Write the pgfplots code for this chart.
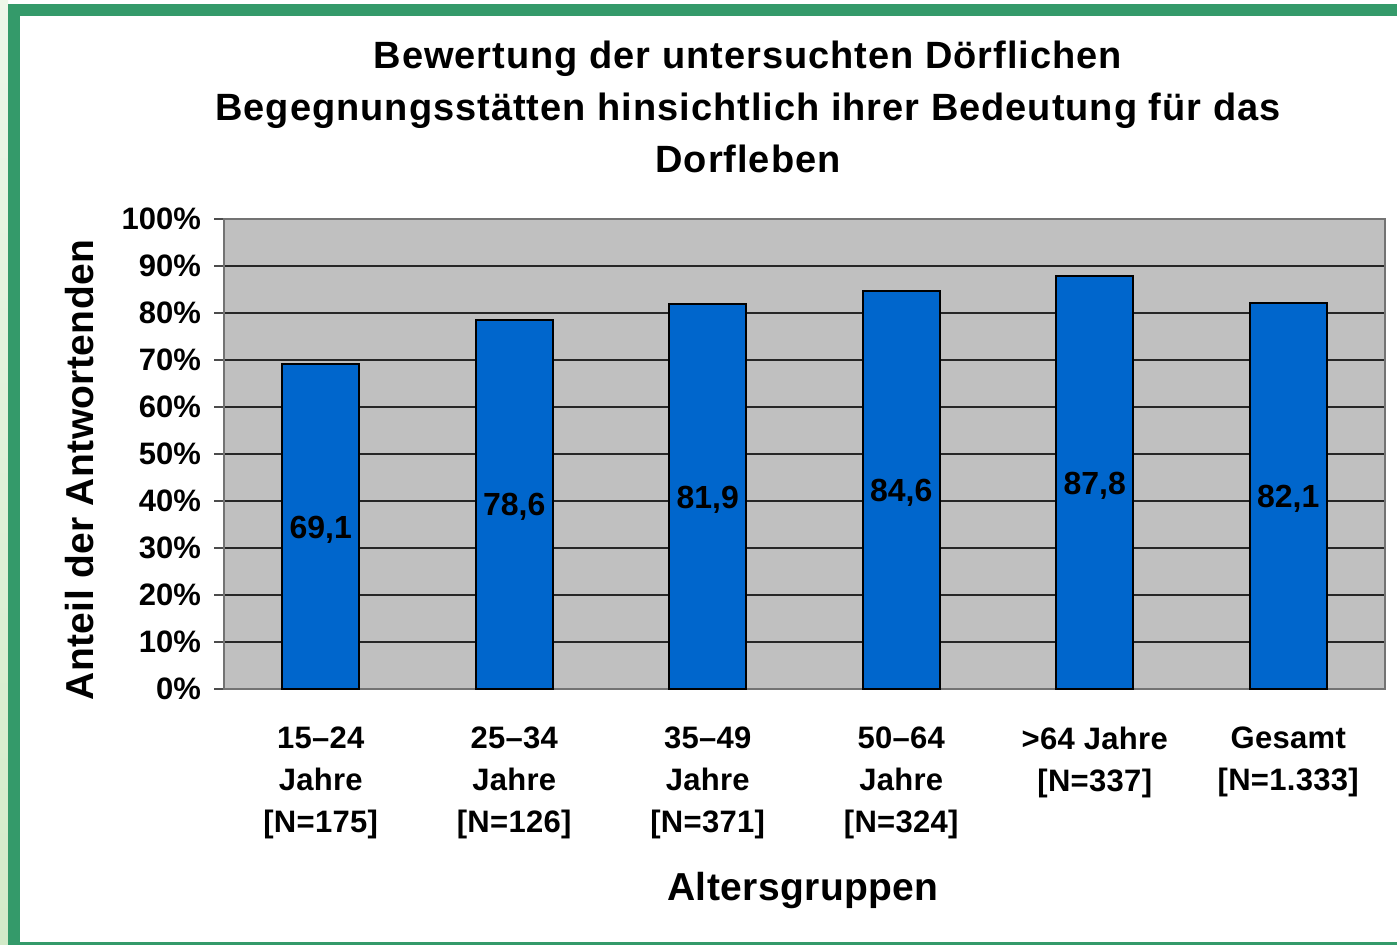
\documentclass[border=0pt]{standalone}
\usepackage{pgfplots}
\pgfplotsset{compat=1.18}
\usepackage{pgfplotstable}
\usepackage{fontspec}
\setmainfont{Liberation Sans}
\newfontfamily\titlefont{Liberation Sans}[LetterSpace=2.6]
\newfontfamily\labelfont{Liberation Sans}[LetterSpace=1.0]
\definecolor{framegreen}{RGB}{52,154,106}
\definecolor{palegreen}{RGB}{210,234,200}
\definecolor{plotgray}{RGB}{192,192,192}
\definecolor{barblue}{RGB}{0,102,204}
\pgfplotstableread{
x v
0 69.1
1 78.6
2 81.9
3 84.6
4 87.8
5 82.1
}\data
\begin{document}
\begin{tikzpicture}[x=1pt,y=1pt]
\useasboundingbox (0,0) rectangle (698.5,472.5);
\fill[white] (0,0) rectangle (698.5,472.5);
\shade[bottom color=palegreen, top color=palegreen!40!white] (0,0) rectangle (4,472.5);
\fill[framegreen] (4,0) rectangle (10,470.5);
\fill[framegreen] (4,464.5) rectangle (698.5,470.5);
\fill[framegreen] (4,0) rectangle (698.5,1.5);
\begin{axis}[
  at={(112pt,128pt)}, anchor=south west,
  scale only axis, width=580.5pt, height=235pt,
  xmin=-0.5, xmax=5.5, ymin=0, ymax=100,
  axis background/.style={fill=plotgray},
  axis line style={draw=black!55, line width=0.7pt},
  ytick={0,10,...,100},
  yticklabel={\pgfmathprintnumber{\tick}\%},
  /pgf/number format/assume math mode=true,
  ymajorgrids, grid style={draw=black!85, line width=0.6pt},
  tick align=outside, ytick pos=left, xtick pos=bottom,
  major tick length=5pt,
  tick style={draw=black!70, line width=0.6pt},
  xtick={0,...,5},
  xticklabels={{15–24\\Jahre\\{[N=175]}},{25–34\\Jahre\\{[N=126]}},{35–49\\Jahre\\{[N=371]}},{50–64\\Jahre\\{[N=324]}},{>64 Jahre\\{[N=337]}},{Gesamt\\{[N=1.333]}}},
  xtick style={draw=none},
  extra x ticks={-0.5,0.5,...,5.5},
  extra x tick labels={},
  extra x tick style={grid=none, tick style={draw=black!70, line width=0.6pt}, major tick length=5pt},
  yticklabel style={font=\bfseries\fontsize{15.5}{18}\selectfont, xshift=-3pt},
  xticklabel style={font=\labelfont\bfseries\fontsize{15.5}{21}\selectfont, align=center, yshift=-10.5pt, anchor=north},
  clip=false,
]
\addplot[ybar, bar width=0.4, fill=barblue, draw=black, line width=1pt] table[x=x, y=v] {\data};
\addplot[draw=none, mark=none, nodes near coords, point meta=explicit,
  nodes near coords style={anchor=center, text=black, yshift=-1.5pt, font=\bfseries\fontsize{16}{18}\selectfont,
    /pgf/number format/.cd, fixed, fixed zerofill, precision=1, use comma, assume math mode=true}]
  table[x=x, y expr=\thisrow{v}/2, meta=v] {\data};
\end{axis}
\node[align=center, font=\titlefont\bfseries\fontsize{19}{26}\selectfont] at (374,419) {Bewertung der untersuchten Dörflichen\\Begegnungsstätten hinsichtlich ihrer Bedeutung für das\\Dorfleben};
\node[font=\labelfont\bfseries\fontsize{19.5}{22}\selectfont] at (401.5,27) {Altersgruppen};
\node[rotate=90, font=\labelfont\bfseries\fontsize{19.5}{22}\selectfont] at (40,237.5) {Anteil der Antwortenden};
\end{tikzpicture}
\end{document}
